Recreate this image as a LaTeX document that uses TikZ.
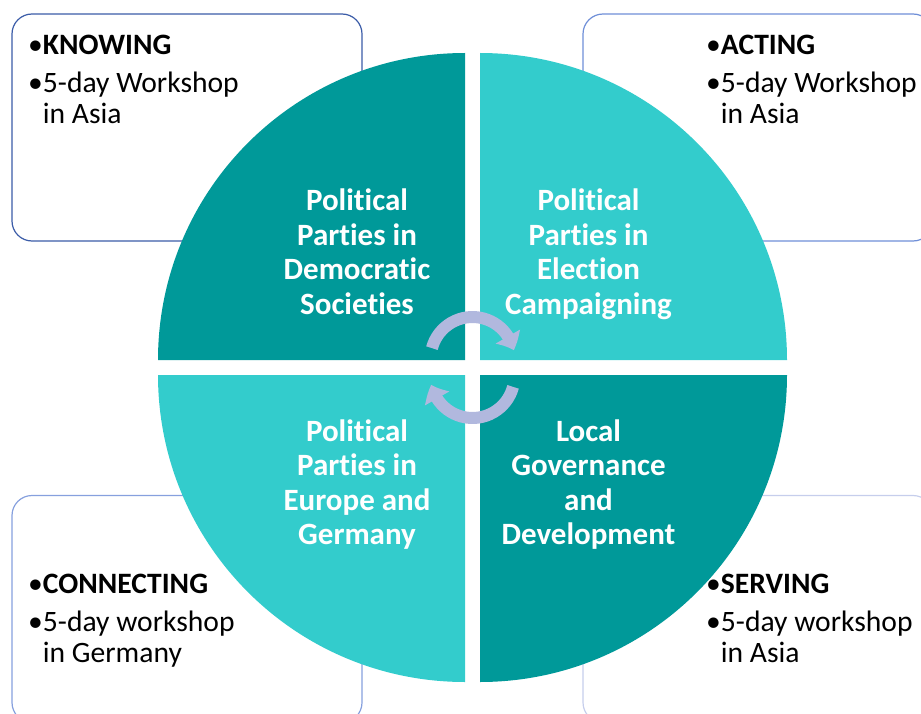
\documentclass[tikz,border=0pt]{standalone}
\usepackage{fontspec}
\setmainfont{Carlito}[Ligatures=NoCommon]
\usetikzlibrary{arrows.meta,bending}
\definecolor{DarkTeal}{HTML}{009999}
\definecolor{LightTeal}{HTML}{33CCCC}
\definecolor{CycleLilac}{HTML}{B1B8DE}
\definecolor{FrameOne}{HTML}{3B5CA8}
\definecolor{FrameTwo}{HTML}{6F8FD8}
\definecolor{FrameThree}{HTML}{86A0DE}
\definecolor{FrameFour}{HTML}{C6CEEC}
\newcommand{\quadtext}[1]{\begin{tabular}[t]{@{}c@{}}#1\end{tabular}}
\newcommand{\infotext}[3]{\begin{tabular}[t]{@{}l@{}l@{}}\textbullet&\textbf{#1}\\[7pt]
  \textbullet&#2\\ &#3\end{tabular}}
\tikzset{
  infobox/.style={rounded corners=20pt, line width=1.2pt, fill=white,
    minimum width=350pt, minimum height=227pt, inner sep=0pt},
  quadlabel/.style={anchor=base, text=white, inner sep=0pt,
    font=\fontsize{31}{34.5}\selectfont\bfseries},
  boxlabel/.style={anchor=base west, inner sep=0pt,
    font=\fontsize{29.6}{31}\selectfont},
  cyclearrow/.style={CycleLilac, line width=12pt,
    -{Triangle[width=27pt,length=15pt,bend]}}
}

\begin{document}
\begin{tikzpicture}[x=1pt,y=-1pt]
\useasboundingbox (0,0) rectangle (921,714);
\clip (0,0) rectangle (921,714);
% outer boxes
\node[infobox, draw=FrameOne] (knowbox) at (187,127.5) {};
\node[infobox, draw=FrameTwo] (actbox) at (758,127.5) {};
\node[infobox, draw=FrameThree] (connbox) at (187,609) {};
\node[infobox, draw=FrameFour] (servbox) at (758,609) {};
\node[boxlabel] (knowtxt) at (28,55) {\infotext{KNOWING}{5-day Workshop}{in Asia}};
\node[boxlabel] (acttxt) at (706,55) {\infotext{ACTING}{5-day Workshop}{in Asia}};
\node[boxlabel] (conntxt) at (28,593) {\infotext{CONNECTING}{5-day workshop}{in Germany}};
\node[boxlabel] (servtxt) at (706,593) {\infotext{SERVING}{5-day workshop}{in Asia}};
% the four quarters
\fill[DarkTeal] (465,360) -- ++(-307,0) arc[start angle=180,end angle=270,radius=307] -- cycle;
\fill[LightTeal] (480,360) -- ++(307,0) arc[start angle=0,end angle=-90,radius=307] -- cycle;
\fill[LightTeal] (465,375) -- ++(-307,0) arc[start angle=180,end angle=90,radius=307] -- cycle;
\fill[DarkTeal] (480,375) -- ++(307,0) arc[start angle=0,end angle=90,radius=307] -- cycle;
\node[quadlabel] (demo) at (357,211) {\quadtext{Political\\Parties in\\Democratic\\Societies}};
\node[quadlabel] (elect) at (588.5,211) {\quadtext{Political\\Parties in\\Election\\Campaigning}};
\node[quadlabel] (europe) at (357,441) {\quadtext{Political\\Parties in\\Europe and\\Germany}};
\node[quadlabel] (local) at (588.5,441) {\quadtext{Local\\Governance\\and\\Development}};
% cycle arrows
\coordinate (tophub) at (472.5,359);
\coordinate (bothub) at (472.5,376);
\draw[cyclearrow] (tophub) ++(-165:42) arc[start angle=-165,end angle=-12,radius=42];
\draw[cyclearrow] (bothub) ++(15:42) arc[start angle=15,end angle=168,radius=42];
\end{tikzpicture}
\end{document}
